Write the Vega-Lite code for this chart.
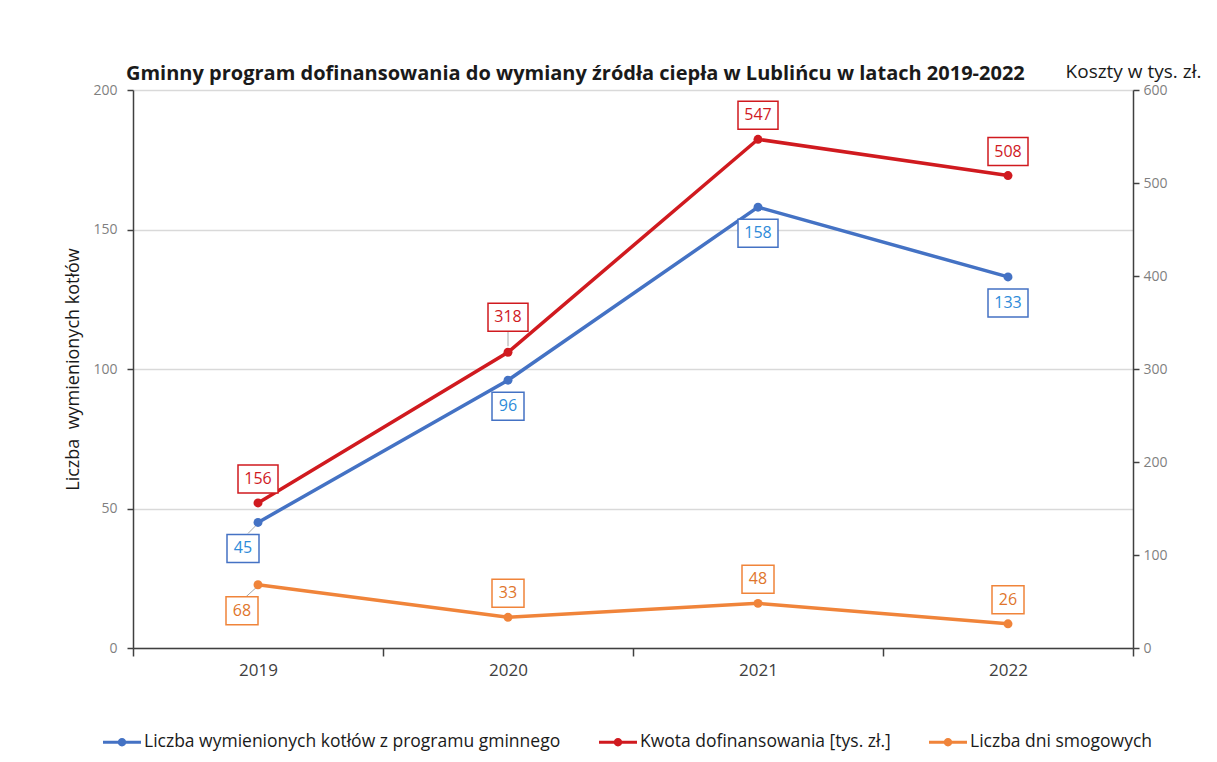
{
  "$schema": "https://vega.github.io/schema/vega-lite/v6.json",
  "width": 1000,
  "height": 558,
  "autosize": "none",
  "padding": {"left": 133, "top": 90, "right": 84, "bottom": 114},
  "background": "white",
  "title": {
    "text": "Gminny program dofinansowania do wymiany źródła ciepła w Lublińcu w latach 2019-2022",
    "anchor": "start", "frame": "group", "dx": -7, "offset": -22,
    "fontSize": 20, "fontWeight": "bold", "font": "Open Sans", "color": "#1A1A1A"
  },
  "data": {"values": [
    {"year": "2019", "series": "Liczba wymienionych kotłów z programu gminnego", "value": 45},
    {"year": "2020", "series": "Liczba wymienionych kotłów z programu gminnego", "value": 96},
    {"year": "2021", "series": "Liczba wymienionych kotłów z programu gminnego", "value": 158},
    {"year": "2022", "series": "Liczba wymienionych kotłów z programu gminnego", "value": 133},
    {"year": "2019", "series": "Kwota dofinansowania [tys. zł.]", "value": 156},
    {"year": "2020", "series": "Kwota dofinansowania [tys. zł.]", "value": 318},
    {"year": "2021", "series": "Kwota dofinansowania [tys. zł.]", "value": 547},
    {"year": "2022", "series": "Kwota dofinansowania [tys. zł.]", "value": 508},
    {"year": "2019", "series": "Liczba dni smogowych", "value": 68},
    {"year": "2020", "series": "Liczba dni smogowych", "value": 33},
    {"year": "2021", "series": "Liczba dni smogowych", "value": 48},
    {"year": "2022", "series": "Liczba dni smogowych", "value": 26}
  ]},
  "encoding": {
    "x": {
      "field": "year", "type": "ordinal",
      "scale": {"type": "band", "paddingInner": 0, "paddingOuter": 0},
      "axis": {
        "title": null, "labelAngle": 0, "tickBand": "extent", "grid": false,
        "domainColor": "#404040", "domainWidth": 1.5, "tickColor": "#404040", "tickWidth": 1.5, "tickSize": 8,
        "labelFontSize": 17, "labelColor": "#404040", "labelPadding": 6
      }
    }
  },
  "layer": [
    {
      "transform": [{"filter": "datum.series == 'Liczba wymienionych kotłów z programu gminnego'"}],
      "encoding": {
        "y": {
          "field": "value", "type": "quantitative",
          "scale": {"domain": [0, 200], "nice": false},
          "axis": {
            "orient": "left", "values": [0, 50, 100, 150, 200], "grid": true, "gridColor": "#D9D9D9", "gridWidth": 1.5,
            "domainColor": "#404040", "domainWidth": 1.5, "tickColor": "#404040", "tickWidth": 1.5, "tickSize": 6,
            "labelPadding": 10, "labelFontSize": 14, "labelColor": "#7F7F7F",
            "title": "Liczba \u00a0wymienionych kotłów", "titleFontSize": 18, "titleFontWeight": "normal",
            "titleColor": "#1A1A1A", "titlePadding": 10
          }
        }
      },
      "layer": [
        {"mark": {"type": "line", "strokeWidth": 3.5},
         "encoding": {"color": {"field": "series", "type": "nominal",
           "scale": {"domain": ["Liczba wymienionych kotłów z programu gminnego", "Kwota dofinansowania [tys. zł.]", "Liczba dni smogowych"], "range": ["#4472C4", "#D01A1F", "#F0843A"]},
           "legend": {
             "title": null, "orient": "none", "direction": "horizontal", "legendX": -30, "legendY": 633,
             "symbolType": "M-1,-0.08H-0.2V0.08H-1Z M0.2,-0.08H1V0.08H0.2Z M0.22,0A0.22,0.22,0,1,1,-0.22,0A0.22,0.22,0,1,1,0.22,0Z",
             "symbolSize": 1444, "symbolStrokeWidth": 0, "labelFontSize": 17.5, "labelColor": "#1A1A1A",
             "labelFont": "Open Sans", "labelOffset": 3, "columnPadding": 38, "labelLimit": 600,
             "encode": {"symbols": {"update": {"fill": {"scale": "color", "field": "value"}, "stroke": {"value": "transparent"}, "opacity": {"value": 1}}}}
           }}}},
        {
          "transform": [{"filter": "datum.year == '2019'"}],
          "mark": {"type": "rule", "color": "#A6A6A6", "strokeWidth": 1, "xOffset": -2, "x2Offset": -10, "yOffset": 3, "y2Offset": 11},
          "encoding": {"x2": {"field": "year"}, "y2": {"field": "value"}}
        },
        {"mark": {"type": "point", "filled": true, "opacity": 1, "size": 80}, "encoding": {"color": {"field": "series", "type": "nominal"}}},
        {
          "mark": {"type": "point", "filled": false, "fill": "white", "fillOpacity": 1, "opacity": 1, "strokeWidth": 1.5,
                   "yOffset": 26, "xOffset": {"expr": "datum.year == '2019' ? -15 : 0"}},
          "encoding": {
            "stroke": {"field": "series", "type": "nominal", "legend": null,
              "scale": {"domain": ["Liczba wymienionych kotłów z programu gminnego", "Kwota dofinansowania [tys. zł.]", "Liczba dni smogowych"], "range": ["#4472C4", "#D01A1F", "#F0843A"]}},
            "shape": {"condition": {"test": "datum.value >= 100", "value": "M-1,-0.7H1V0.7H-1Z"}, "value": "M-1,-0.875H1V0.875H-1Z"},
            "size": {"condition": {"test": "datum.value >= 100", "value": 1600}, "value": 1024}
          }
        },
        {
          "mark": {"type": "text", "fontSize": 16, "baseline": "middle", "align": "center",
                   "yOffset": 26, "xOffset": {"expr": "datum.year == '2019' ? -15 : 0"}},
          "encoding": {
            "text": {"field": "value", "type": "quantitative"},
            "fill": {"field": "series", "type": "nominal", "legend": null,
              "scale": {"domain": ["Liczba wymienionych kotłów z programu gminnego", "Kwota dofinansowania [tys. zł.]", "Liczba dni smogowych"], "range": ["#2E8BD9", "#D01A1F", "#E0752B"]}}
          }
        }
      ]
    },
    {
      "transform": [{"filter": "datum.series != 'Liczba wymienionych kotłów z programu gminnego'"}],
      "encoding": {
        "y": {
          "field": "value", "type": "quantitative",
          "scale": {"domain": [0, 600], "nice": false},
          "axis": {
            "orient": "right", "values": [0, 100, 200, 300, 400, 500, 600], "grid": false,
            "domainColor": "#404040", "domainWidth": 1.5, "tickColor": "#404040", "tickWidth": 1.5, "tickSize": 6,
            "labelPadding": 4, "labelFontSize": 14, "labelColor": "#7F7F7F",
            "title": "Koszty w tys. zł.", "titleAngle": 0, "titleX": 0, "titleY": -13, "titleAlign": "center",
            "titleBaseline": "alphabetic", "titleFontSize": 19, "titleFontWeight": "normal", "titleColor": "#1A1A1A"
          }
        }
      },
      "layer": [
        {"mark": {"type": "line", "strokeWidth": 3.5}, "encoding": {"color": {"field": "series", "type": "nominal"}}},
        {
          "transform": [{"filter": "(datum.series == 'Kwota dofinansowania [tys. zł.]' && datum.year == '2020') || (datum.series == 'Liczba dni smogowych' && datum.year == '2019')"}],
          "mark": {"type": "rule", "color": "#A6A6A6", "strokeWidth": 1,
                   "xOffset": {"expr": "datum.year == '2020' ? 0 : -2"},
                   "x2Offset": {"expr": "datum.year == '2020' ? 0 : -12"},
                   "yOffset": {"expr": "datum.year == '2020' ? -6 : 3"},
                   "y2Offset": {"expr": "datum.year == '2020' ? -21 : 12"}},
          "encoding": {"x2": {"field": "year"}, "y2": {"field": "value"}}
        },
        {"mark": {"type": "point", "filled": true, "opacity": 1, "size": 80}, "encoding": {"color": {"field": "series", "type": "nominal"}}},
        {
          "mark": {"type": "point", "filled": false, "fill": "white", "fillOpacity": 1, "opacity": 1, "strokeWidth": 1.5,
                   "yOffset": {"expr": "datum.series == 'Liczba dni smogowych' && datum.year == '2019' ? 26 : (datum.series == 'Kwota dofinansowania [tys. zł.]' && datum.year == '2020' ? -35 : -24)"},
                   "xOffset": {"expr": "datum.series == 'Liczba dni smogowych' && datum.year == '2019' ? -16 : 0"}},
          "encoding": {
            "stroke": {"field": "series", "type": "nominal", "legend": null},
            "shape": {"condition": {"test": "datum.value >= 100", "value": "M-1,-0.7H1V0.7H-1Z"}, "value": "M-1,-0.875H1V0.875H-1Z"},
            "size": {"condition": {"test": "datum.value >= 100", "value": 1600}, "value": 1024}
          }
        },
        {
          "mark": {"type": "text", "fontSize": 16, "baseline": "middle", "align": "center",
                   "yOffset": {"expr": "datum.series == 'Liczba dni smogowych' && datum.year == '2019' ? 26 : (datum.series == 'Kwota dofinansowania [tys. zł.]' && datum.year == '2020' ? -35 : -24)"},
                   "xOffset": {"expr": "datum.series == 'Liczba dni smogowych' && datum.year == '2019' ? -16 : 0"}},
          "encoding": {
            "text": {"field": "value", "type": "quantitative"},
            "fill": {"field": "series", "type": "nominal", "legend": null}
          }
        }
      ]
    }
  ],
  "resolve": {"scale": {"y": "independent"}},
  "config": {
    "font": "Open Sans",
    "view": {"stroke": null}
  }
}
